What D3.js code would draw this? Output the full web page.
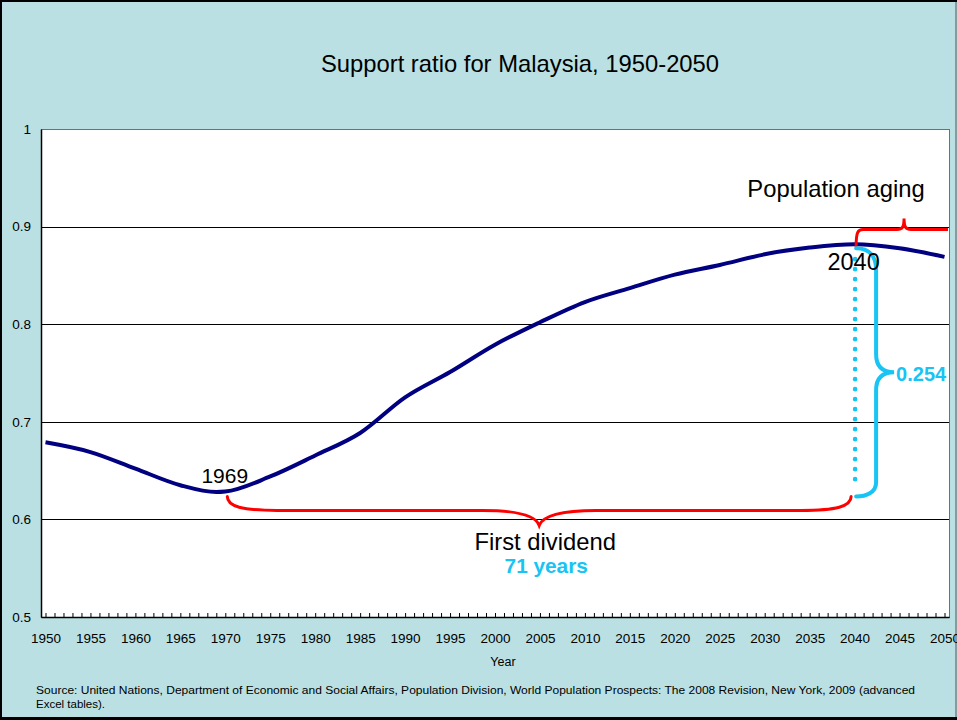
<!DOCTYPE html>
<html>
<head>
<meta charset="utf-8">
<script src="https://cdn.jsdelivr.net/npm/d3@7"></script>
<style>
  html, body { margin: 0; padding: 0; background: #fff; }
  svg { display: block; font-family: Arial, "Liberation Sans", Helvetica, sans-serif; }
</style>
</head>
<body>
<svg id="chart" width="957" height="720"></svg>
<script>
// Support ratio for Malaysia (UN WPP 2008), read at key years
const years  = [1950, 1955, 1960, 1965, 1969, 1970, 1975, 1980, 1985, 1990, 1995, 2000, 2005, 2010, 2015, 2020, 2025, 2030, 2035, 2040, 2045, 2050];
const ratios = [0.679, 0.669, 0.652, 0.635, 0.628, 0.6285, 0.644, 0.6655, 0.6885, 0.725, 0.751, 0.779, 0.802, 0.8227, 0.837, 0.8508, 0.8607, 0.8716, 0.8785, 0.882, 0.8778, 0.869];

const axisYears  = d3.range(1950, 2051);          // one tick per year
const yTickVals  = [0.5, 0.6, 0.7, 0.8, 0.9, 1];
const gridVals   = [0.6, 0.7, 0.8, 0.9];

const titleText  = "Support ratio for Malaysia, 1950-2050";
const xTitle     = "Year";
const sourceLines = [
  "Source: United Nations, Department of Economic and Social Affairs, Population Division, World Population Prospects: The 2008 Revision, New York, 2009 (advanced",
  "Excel tables)."
];

// Demographic-dividend window: from the trough to the peak of the ratio
const troughYear = 1969, peakYear = 2040;

const W = 957, H = 720;
const plot = { left: 41, right: 949, top: 129, bottom: 617 };

const svg = d3.select("#chart");

// Background panel and frame
svg.append("rect").attr("x", 0).attr("y", 0).attr("width", W).attr("height", H).attr("fill", "#BAE0E3");
svg.append("rect").attr("x", 955).attr("y", 0).attr("width", 2).attr("height", H).attr("fill", "#8a9a9c");
svg.append("rect").attr("x", 0).attr("y", 0).attr("width", W).attr("height", 2).attr("fill", "#000");
svg.append("rect").attr("x", 0).attr("y", 0).attr("width", 2).attr("height", H).attr("fill", "#000");
svg.append("rect").attr("x", 0).attr("y", 717).attr("width", W).attr("height", 3).attr("fill", "#000");

const x = d3.scaleLinear().domain([1949.5, 2050.5]).range([plot.left, plot.right]);
const y = d3.scaleLinear().domain([0.5, 1]).range([plot.bottom, plot.top]);

// Plot area
svg.append("rect")
  .attr("x", plot.left).attr("y", plot.top)
  .attr("width", plot.right - plot.left).attr("height", plot.bottom - plot.top)
  .attr("fill", "#fff").attr("stroke", "#707070").attr("stroke-width", 1)
  .attr("shape-rendering", "crispEdges");

// Gridlines
svg.append("g").selectAll("line").data(gridVals).join("line")
  .attr("x1", plot.left).attr("x2", plot.right)
  .attr("y1", d => Math.round(y(d)) + 0.5).attr("y2", d => Math.round(y(d)) + 0.5)
  .attr("stroke", "#000").attr("stroke-width", 1);

// Title
svg.append("text").attr("x", 520).attr("y", 72).attr("text-anchor", "middle")
  .attr("font-size", 23.8).attr("fill", "#000").text(titleText);

// X axis: yearly minor ticks pointing inward, labels every 5 years
const xAxis = d3.axisBottom(x)
  .tickValues(axisYears)
  .tickSizeInner(-4).tickSizeOuter(0).tickPadding(16)
  .tickFormat(d => d % 5 === 0 ? String(d) : "");
const gx = svg.append("g").attr("transform", `translate(0,${plot.bottom})`).call(xAxis);
gx.select(".domain").attr("stroke", "#000").attr("stroke-width", 1.5);
gx.selectAll(".tick line").attr("stroke", "#000");
gx.selectAll(".tick text").attr("font-size", 13.5).attr("fill", "#000")
  .attr("font-family", "Arial, 'Liberation Sans', sans-serif");

// Y axis
const yAxis = d3.axisLeft(y).tickValues(yTickVals).tickSizeInner(0).tickSizeOuter(0).tickPadding(10)
  .tickFormat(d3.format("~g"));
const gy = svg.append("g").attr("transform", `translate(${plot.left},0)`).call(yAxis);
gy.select(".domain").attr("stroke", "#000").attr("stroke-width", 1.5);
gy.selectAll(".tick text").attr("font-size", 13.5).attr("fill", "#000")
  .attr("font-family", "Arial, 'Liberation Sans', sans-serif");

// Axis title
svg.append("text").attr("x", 503).attr("y", 666).attr("text-anchor", "middle")
  .attr("font-size", 12.5).attr("fill", "#000").text(xTitle);

// Source note
svg.append("g").selectAll("text").data(sourceLines).join("text")
  .attr("x", 36).attr("y", (d, i) => 694 + i * 13.5)
  .attr("font-family", "'Liberation Sans Narrow', 'Arial Narrow', Arial, sans-serif")
  .attr("font-size", 11.5).attr("fill", "#000")
  .attr("textLength", (d, i) => i === 0 ? 879 : null)
  .attr("lengthAdjust", "spacingAndGlyphs")
  .text(d => d);

// Support ratio curve
const series = years.map((yr, i) => ({ yr, v: ratios[i] }));
const line = d3.line().x(d => x(d.yr)).y(d => y(d.v)).curve(d3.curveMonotoneX);
svg.append("path").datum(series)
  .attr("d", line).attr("fill", "none")
  .attr("stroke", "#000080").attr("stroke-width", 4).attr("stroke-linejoin", "round");

const vTrough = ratios[years.indexOf(troughYear)];
const vPeak   = ratios[years.indexOf(peakYear)];

const RED = "#FF0000", CYAN = "#17C4F3";

// ---- First-dividend brace (tip pointing down) ----
{
  const x1 = x(troughYear) + 11, x2 = x(peakYear) - 3.5;
  const yE = y(vTrough) + 4.5;      // ends just under the trough
  const yF = y(0.6) - 9;             // flat run
  const yT = y(0.6) + 6;             // tip
  const xm = (x1 + x2) / 2;
  const p = d3.path();
  p.moveTo(x1, yE);
  p.bezierCurveTo(x1, yE + 10, x1 + 15, yF, x1 + 50, yF);
  p.lineTo(xm - 57, yF);
  p.bezierCurveTo(xm - 25, yF, xm - 4, yF + 4, xm, yT);
  p.bezierCurveTo(xm + 4, yF + 4, xm + 25, yF, xm + 57, yF);
  p.lineTo(x2 - 50, yF);
  p.bezierCurveTo(x2 - 15, yF, x2, yE + 10, x2, yE);
  svg.append("path").attr("d", p.toString()).attr("fill", "none")
    .attr("stroke", RED).attr("stroke-width", 3).attr("stroke-linecap", "round");

  svg.append("text").attr("x", xm + 6).attr("y", 550).attr("text-anchor", "middle")
    .attr("font-size", 23.8).attr("fill", "#000").text("First dividend");
  svg.append("text").attr("x", xm + 7).attr("y", 573).attr("text-anchor", "middle")
    .attr("font-size", 20.8).attr("font-weight", "bold").attr("fill", CYAN)
    .text(`${peakYear - troughYear} years`);
}

// ---- Population-aging brace (tip pointing up, runs off the right edge) ----
{
  const x1 = x(peakYear) + 1.5;
  const yE = y(vPeak) + 2.5;
  const yF = y(0.9) + 3;
  const yT = y(0.9) - 8;
  const xm = x(2045.5);
  const p = d3.path();
  p.moveTo(x1, yE);
  p.bezierCurveTo(x1, yF + 2, x1 + 2, yF, x1 + 7, yF);
  p.lineTo(xm - 7, yF);
  p.bezierCurveTo(xm - 2, yF, xm, yF - 2, xm, yT);
  p.bezierCurveTo(xm, yF - 2, xm + 2, yF, xm + 7, yF);
  p.lineTo(plot.right - 1, yF);
  svg.append("path").attr("d", p.toString()).attr("fill", "none")
    .attr("stroke", RED).attr("stroke-width", 3).attr("stroke-linecap", "butt");

  svg.append("text").attr("x", 836).attr("y", 197).attr("text-anchor", "middle")
    .attr("font-size", 23.8).attr("fill", "#000").text("Population aging");
}

// ---- Gap between peak and trough: dotted drop line and vertical brace ----
{
  const xd = x(peakYear) + 0.5;
  svg.append("line")
    .attr("x1", xd).attr("x2", xd).attr("y1", y(vPeak) + 15).attr("y2", y(vTrough) - 3)
    .attr("stroke", CYAN).attr("stroke-width", 4.6)
    .attr("stroke-dasharray", "0 10").attr("stroke-linecap", "round");

  const xb = xd + 21;
  const yTop = y(vPeak) + 4, yBot = y(vTrough) + 4.5;
  const ym = (yTop + yBot) / 2;
  const xt = xb + 18;
  const p = d3.path();
  p.moveTo(xd + 1, yTop);
  p.bezierCurveTo(xd + 14, yTop, xb, yTop + 8, xb, yTop + 22);
  p.lineTo(xb, ym - 18);
  p.bezierCurveTo(xb, ym - 6, xb + 6, ym, xt, ym);
  p.bezierCurveTo(xb + 6, ym, xb, ym + 6, xb, ym + 18);
  p.lineTo(xb, yBot - 14);
  p.bezierCurveTo(xb, yBot - 4, xb - 10, yBot, xd + 1, yBot);
  svg.append("path").attr("d", p.toString()).attr("fill", "none")
    .attr("stroke", CYAN).attr("stroke-width", 4).attr("stroke-linecap", "round");

  svg.append("text").attr("x", xt + 2).attr("y", ym + 8.5)
    .attr("font-size", 20).attr("font-weight", "bold").attr("fill", CYAN)
    .text((vPeak - vTrough).toFixed(3));
}

// Year callouts at the trough and the peak
svg.append("text").attr("x", x(troughYear) + 8.5).attr("y", 483).attr("text-anchor", "middle")
  .attr("font-size", 21).attr("fill", "#000").text(String(troughYear));
svg.append("text").attr("x", x(peakYear) - 1).attr("y", 270).attr("text-anchor", "middle")
  .attr("font-size", 23.5).attr("fill", "#000").text(String(peakYear));
</script>
</body>
</html>
